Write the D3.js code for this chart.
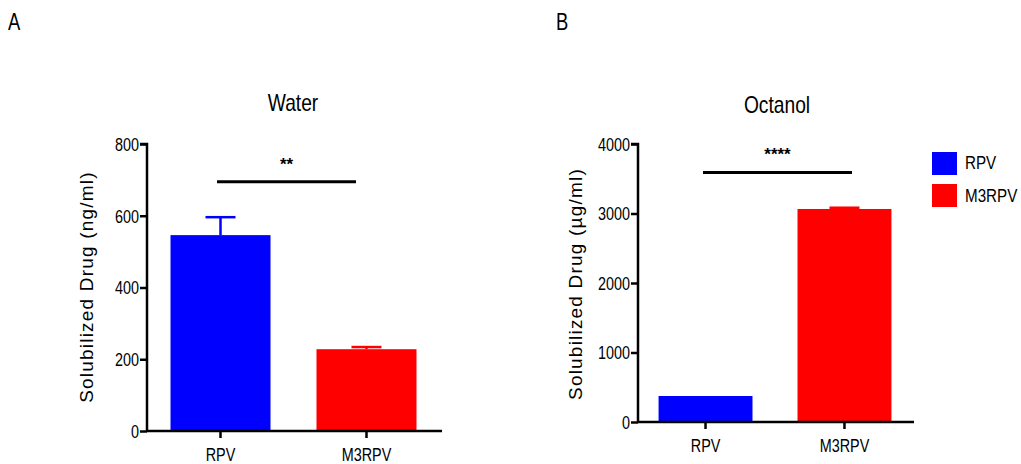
<!DOCTYPE html>
<html><head><meta charset="utf-8">
<script src="https://cdn.jsdelivr.net/npm/d3@7"></script>
<style>
body{margin:0;background:#fff;}
text{font-family:"Liberation Sans",Arial,sans-serif;fill:#000;}
</style></head>
<body><svg id="c" width="1021" height="464"></svg>
<script>
const categories = ["RPV", "M3RPV"];
const waterValues = [546, 228];
const waterErrors = [50, 6];
const waterTicks = [0, 200, 400, 600, 800];
const octanolValues = [374, 3065];
const octanolErrors = [0, 18];
const octanolTicks = [0, 1000, 2000, 3000, 4000];
const colors = ["#0000FF", "#FF0000"];
const SX = 0.8;

const svg = d3.select("#c");

function narrowText(parent, x, y, str, size, anchor) {
  return parent.append("text")
    .attr("transform", `translate(${x},${y}) scale(${SX},1)`)
    .attr("text-anchor", anchor || "start")
    .attr("font-size", size).text(str);
}

function panel(o) {
  const g = svg.append("g");
  const x = d3.scaleBand().domain(categories).range([o.x0, o.x1]).paddingInner(o.pi).paddingOuter(o.po);
  const y = d3.scaleLinear().domain([0, o.ymax]).range([o.y0, o.y1]);
  const data = categories.map((c, i) => ({c, v: o.values[i], e: o.errors[i], col: colors[i]}));
  g.selectAll("rect.bar").data(data).enter().append("rect")
    .attr("x", d => x(d.c)).attr("width", x.bandwidth())
    .attr("y", d => y(d.v)).attr("height", d => y(0) - y(d.v))
    .attr("fill", d => d.col);
  data.forEach(d => {
    if (d.e <= 0) return;
    const cx = x(d.c) + x.bandwidth() / 2;
    g.append("line").attr("x1", cx).attr("x2", cx).attr("y1", y(d.v)).attr("y2", y(d.v + d.e))
      .attr("stroke", d.col).attr("stroke-width", 2.5);
    g.append("line").attr("x1", cx - o.cap).attr("x2", cx + o.cap).attr("y1", y(d.v + d.e)).attr("y2", y(d.v + d.e))
      .attr("stroke", d.col).attr("stroke-width", 2.5);
  });
  // y axis
  const ya = g.append("g").attr("transform", `translate(${o.x0},0)`)
    .call(d3.axisLeft(y).tickValues(o.ticks).tickSize(7).tickPadding(1).tickFormat(d3.format("d")));
  ya.select(".domain").attr("stroke-width", 2.5).attr("d", `M-7,${o.y1}H0V${o.y0}`);
  ya.selectAll(".tick line").attr("stroke-width", 2.5);
  ya.selectAll(".tick text").attr("font-size", 18).attr("dy", "0.36em")
    .attr("transform", `scale(${SX},1)`).attr("x", -8 / SX);
  // x axis
  const xa = g.append("g").attr("transform", `translate(0,${o.y0})`)
    .call(d3.axisBottom(x).tickSize(7).tickPadding(10));
  xa.select(".domain").attr("stroke-width", 2.5).attr("d", `M${o.x0},0H${o.x1 + 2}`);
  xa.selectAll(".tick line").attr("stroke-width", 2.5);
  xa.selectAll(".tick text").attr("font-size", 18).attr("transform", `scale(${SX},1)`);
  // title
  narrowText(g, o.tx, o.ty, o.title, 24, "middle");
  // y title
  g.append("text")
    .attr("transform", `translate(${o.ytx},${o.yty}) rotate(-90)`)
    .attr("text-anchor", "middle").attr("font-size", 19).attr("letter-spacing", 1.2).text(o.ytitle);
  // significance
  g.append("line").attr("x1", o.sx1).attr("x2", o.sx2).attr("y1", y(o.sy)).attr("y2", y(o.sy))
    .attr("stroke", "#000").attr("stroke-width", 3);
  g.append("text").attr("x", (o.sx1 + o.sx2) / 2).attr("y", y(o.sy) - 12).attr("text-anchor", "middle")
    .attr("font-size", 17).attr("font-weight", "bold").text(o.sig);
  narrowText(svg, o.lx, 30, o.letter, 23, "start");
}

panel({x0: 147, x1: 440, pi: 0.315, po: 0.161, y0: 431, y1: 144, ymax: 800,
  values: waterValues, errors: waterErrors, ticks: waterTicks, cap: 15,
  title: "Water", tx: 293, ty: 111, ytitle: "Solubilized Drug (ng/ml)", ytx: 93, yty: 287,
  sx1: 217, sx2: 356, sy: 695, sig: "**", letter: "A", lx: 8});

panel({x0: 638, x1: 912, pi: 0.324, po: 0.148, y0: 422, y1: 144, ymax: 4000,
  values: octanolValues, errors: octanolErrors, ticks: octanolTicks, cap: 15,
  title: "Octanol", tx: 777, ty: 113, ytitle: "Solubilized Drug (\u00b5g/ml)", ytx: 582, yty: 284,
  sx1: 703, sx2: 852, sy: 3590, sig: "****", letter: "B", lx: 556});

// legend
const lg = svg.append("g");
categories.forEach((c, i) => {
  lg.append("rect").attr("x", 932).attr("y", 152 + i * 32).attr("width", 25).attr("height", 23).attr("fill", colors[i]);
  narrowText(lg, 965, 169 + i * 33, c, 19, "start");
});
</script></body></html>
